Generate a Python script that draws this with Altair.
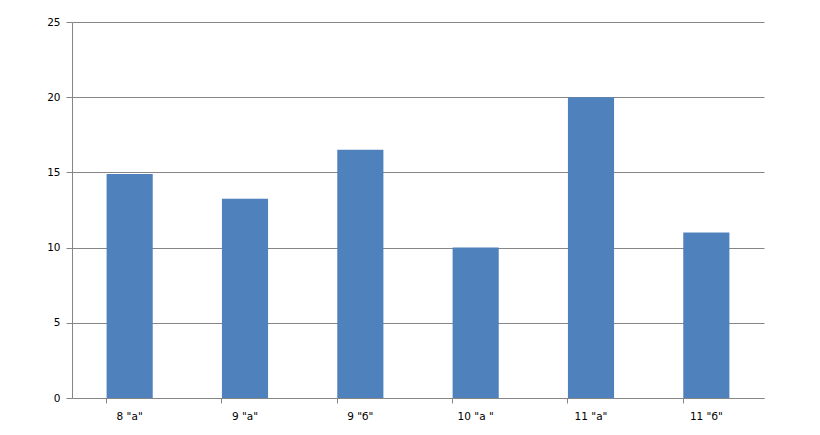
import altair as alt
import pandas as pd

categories = ['8 "а"', '9 "а"', '9 "б"', '10 "а "', '11 "а"', '11 "б"']
values = [14.9, 13.25, 16.5, 10.0, 20.0, 11.0]

df = pd.DataFrame({"cat": categories, "val": values})

chart = alt.Chart(df).mark_bar(color="#4F81BD").encode(
    x=alt.X("cat:N", sort=categories, title=None,
            scale=alt.Scale(paddingInner=0.6, paddingOuter=0.3),
            axis=alt.Axis(labelAngle=0, bandPosition=0, domainColor="#868686",
                          tickColor="#868686", tickSize=5, labelPadding=8,
                          labelFont="DejaVu Sans", labelFontSize=10.5, labelColor="#000000",
                          grid=False)),
    y=alt.Y("val:Q", title=None,
            scale=alt.Scale(domain=[0, 25], nice=False),
            axis=alt.Axis(values=[0, 5, 10, 15, 20, 25], domainColor="#868686",
                          tickColor="#868686", tickSize=6, labelPadding=6,
                          gridColor="#868686", gridWidth=1,
                          labelFont="DejaVu Sans", labelFontSize=10.5, labelColor="#000000")),
).properties(
    width=692, height=376,
    autosize=alt.AutoSizeParams(type="none"),
    padding={"left": 64, "top": 14, "right": 48, "bottom": 30},
).configure_view(stroke=None).configure_axis(domainWidth=1, tickWidth=1)

chart.save("out.html", embed_options={"renderer": "svg", "actions": False})
